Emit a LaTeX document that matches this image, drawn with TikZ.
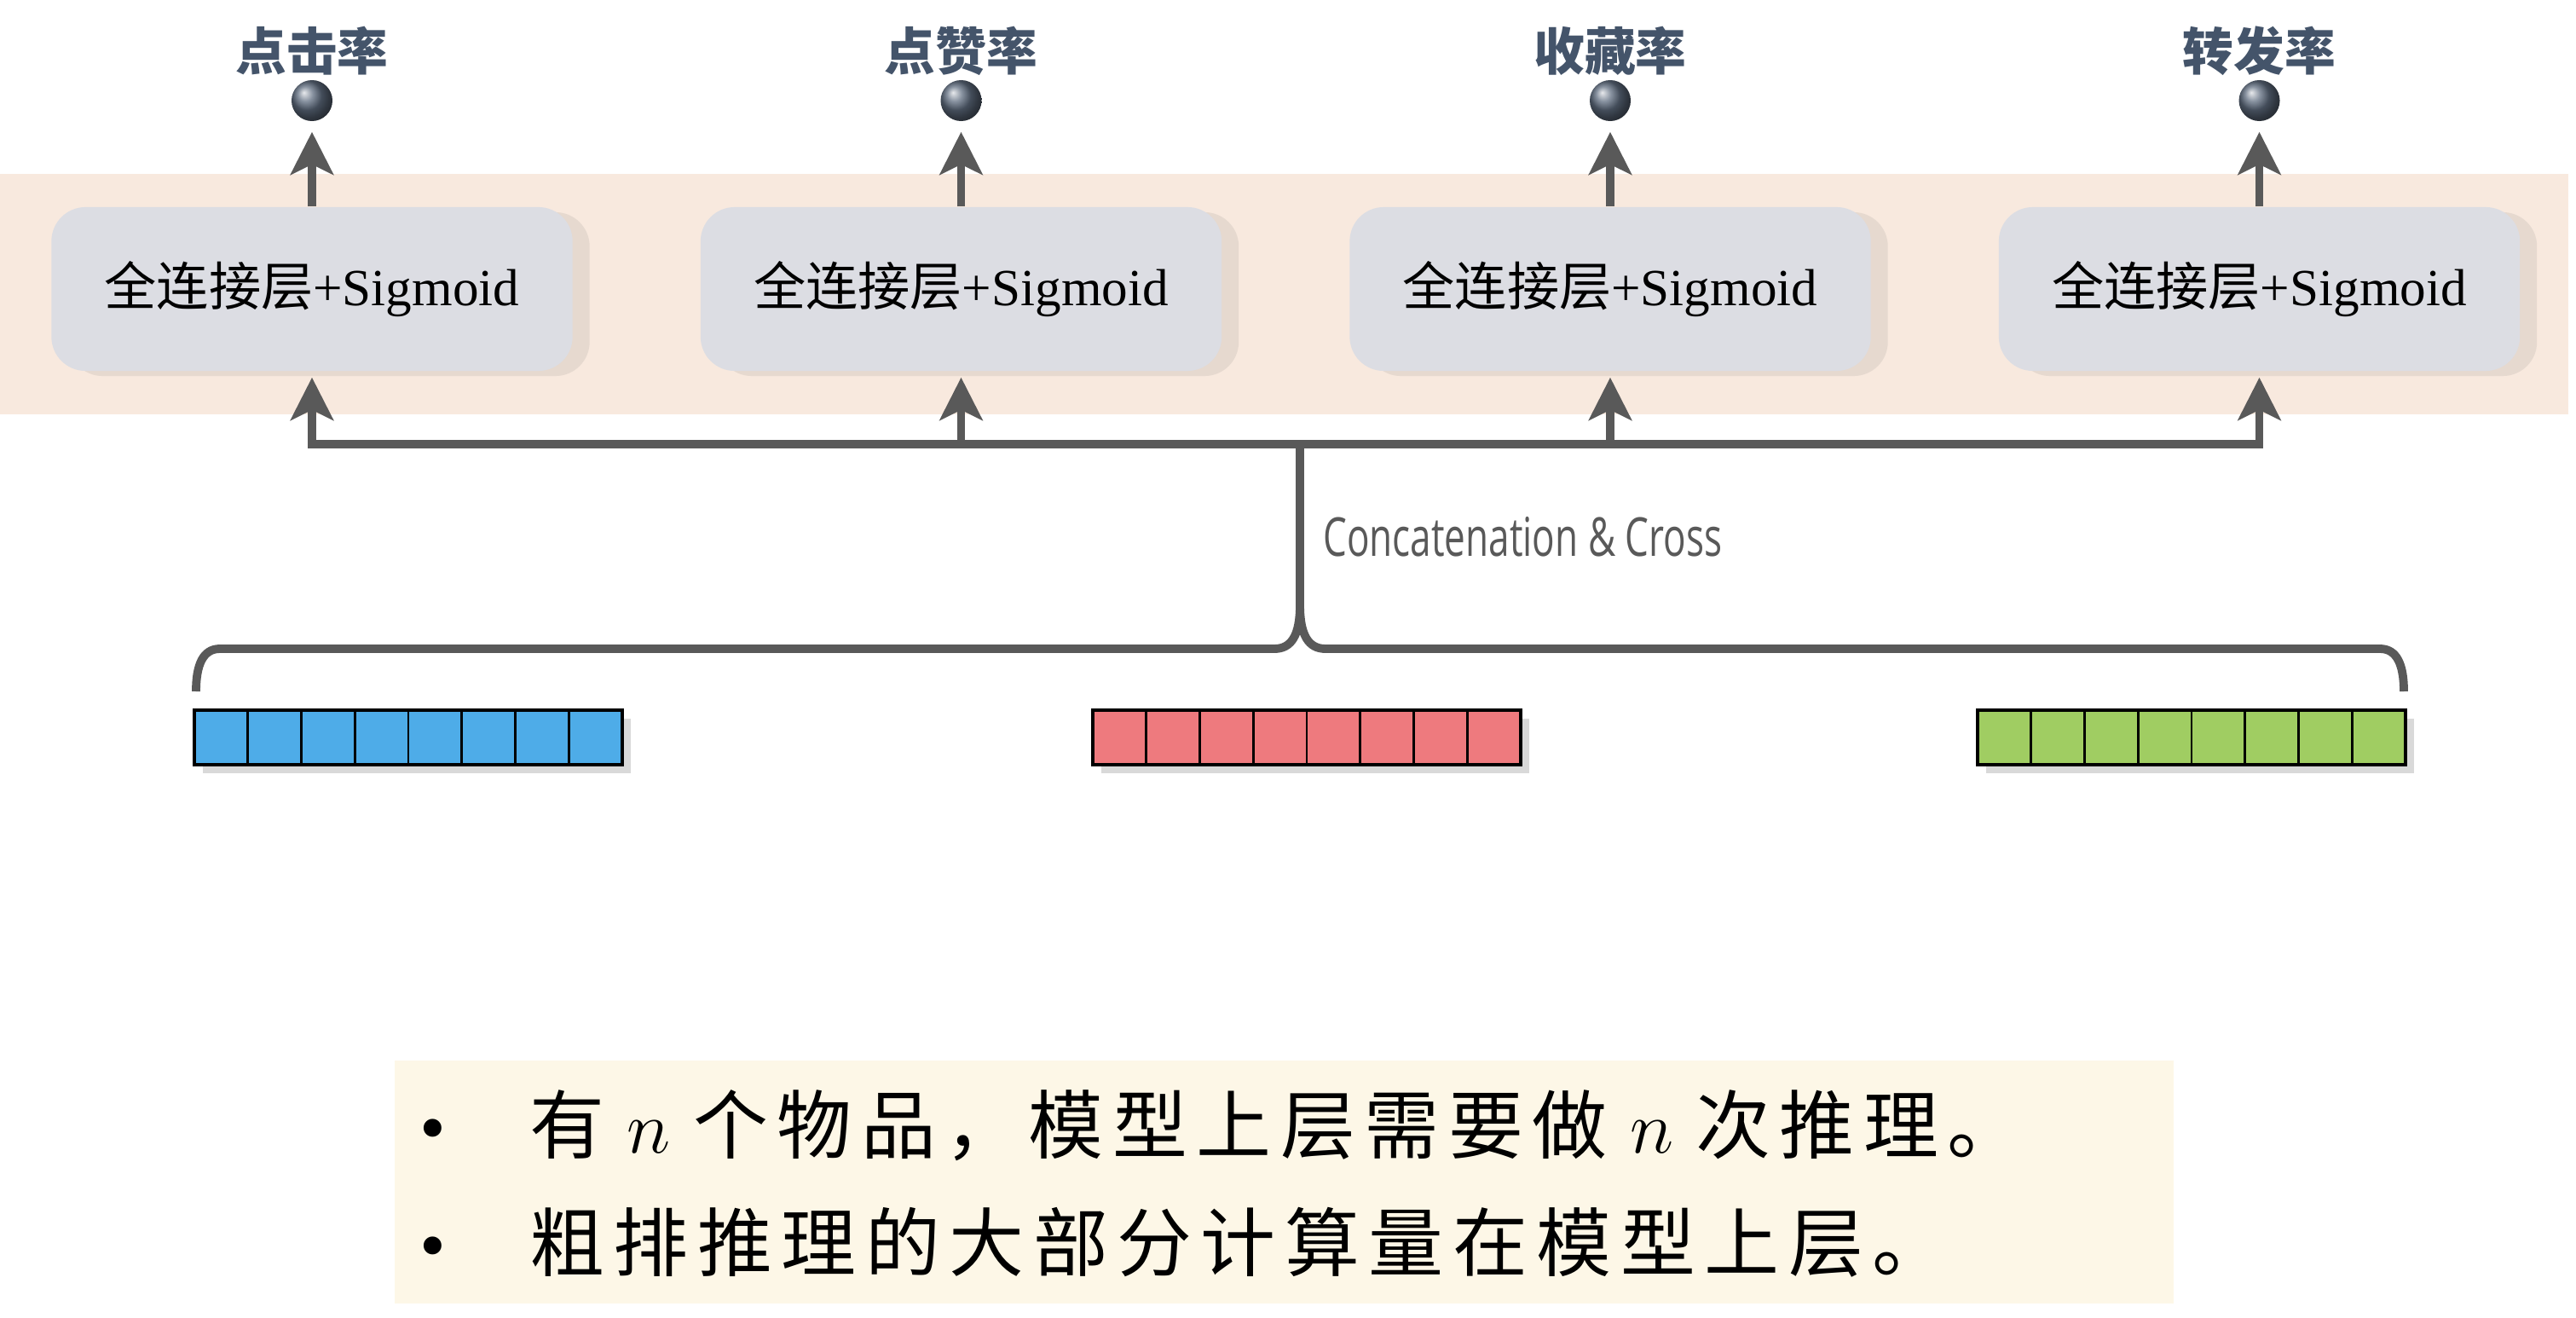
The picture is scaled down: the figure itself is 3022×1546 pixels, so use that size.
\documentclass[tikz,border=0pt]{standalone}
\usepackage{fontspec}
\setmainfont{Liberation Serif}
\newfontfamily\cjk{Noto Sans CJK SC}
\newfontfamily\cjkwide[LetterSpace=12]{Noto Sans CJK SC}
\newfontfamily\condsans[FakeStretch=0.7]{Open Sans}
\usetikzlibrary{arrows.meta,shadows}
\definecolor{bandpeach}{RGB}{248,233,222}
\definecolor{notecream}{RGB}{253,247,231}
\definecolor{fcgray}{RGB}{220,221,227}
\definecolor{linegray}{RGB}{89,89,89}
\definecolor{labelslate}{RGB}{68,84,106}
\definecolor{vecblue}{RGB}{78,172,232}
\definecolor{vecred}{RGB}{238,122,126}
\definecolor{vecgreen}{RGB}{160,205,98}

\tikzset{
  fcbox/.style={rounded corners=0.4cm, fill=fcgray, minimum width=6.11cm, minimum height=1.92cm,
    font=\fontsize{17.4}{20}\selectfont,
    drop shadow={shadow xshift=0.2cm, shadow yshift=-0.06cm, opacity=0.15}},
  ratelabel/.style={text=labelslate, font=\cjk\bfseries\fontsize{17}{20}\selectfont},
  ball/.style={circle, minimum size=0.48cm, inner sep=0pt, ball color=labelslate!85!white},
  flow/.style={draw=linegray, line width=2.8pt},
  uparrow/.style={flow, -{Stealth[length=0.5cm, width=0.5cm, inset=0.12cm]}},
  notetext/.style={anchor=west, font=\fontsize{25}{28}\selectfont},
}

\begin{document}
\begin{tikzpicture}[x=0.01cm, y=-0.01cm]
  \useasboundingbox (0,0) rectangle (3022,1546);

  \fill[bandpeach] (0,204) rectangle (3013,486);
  \fill[notecream] (463,1244) rectangle (2550,1529);

  % the four towers
  \foreach \i/\rate in {1/点击率, 2/点赞率, 3/收藏率, 4/转发率} {
    \pgfmathsetmacro{\cx}{366+761.5*(\i-1)}
    \node[fcbox] (fc\i) at (\cx,339) {{\cjk 全连接层}+Sigmoid};
    \node[ball] (ball\i) at (\cx,118) {};
    \node[ratelabel] (rate\i) at (\cx,60) {\rate};
    \draw[uparrow, shorten >=0.12cm] (fc\i.north) -- (ball\i.south);
  }

  \coordinate (bus) at (1525,521);
  \coordinate (cusp) at (1525,710);
  \draw[flow, line cap=rect] (fc1.south |- bus) -- (fc4.south |- bus);
  \foreach \i in {1,...,4}
    \draw[uparrow, shorten >=0.07cm] (fc\i.south |- bus) -- (fc\i.south);

  \draw[flow] (bus) -- (cusp);
  \draw[flow] (cusp) .. controls (1525,745) and (1515,761) .. (1495,761) -- (258,761)
    .. controls (238,761) and (230,780) .. (230,811);
  \draw[flow] (cusp) .. controls (1525,745) and (1535,761) .. (1555,761) -- (2792,761)
    .. controls (2812,761) and (2820,780) .. (2820,811);
  \node[anchor=west, text=linegray, font=\condsans\fontsize{17.9}{20}\selectfont] (concat) at (1540,630) {Concatenation \& Cross};

  % feature vectors
  \foreach \x/\col in {228/vecblue, 1282/vecred, 2320/vecgreen} {
    \fill[\col, drop shadow={shadow xshift=0.1cm, shadow yshift=-0.1cm, opacity=0.3}] (\x,833) rectangle ++(502,64);
    \foreach \k in {1,...,7}
      \draw[line width=0.8pt] (\x+62.75*\k,833) -- ++(0,64);
    \draw[line width=1.2pt] (\x,833) rectangle ++(502,64);
  }

  \node[notetext] (note1) at (480,1320) {\textbullet\hspace{0.98cm}{\cjkwide 有}\hspace{0.3em}$n$\hspace{0.3em}{\cjkwide 个物品，模型上层需要做}\hspace{0.3em}$n$\hspace{0.3em}{\cjkwide 次推理。}};
  \node[notetext] (note2) at (480,1457) {\textbullet\hspace{0.98cm}{\cjkwide 粗排推理的大部分计算量在模型上层。}};
\end{tikzpicture}
\end{document}
